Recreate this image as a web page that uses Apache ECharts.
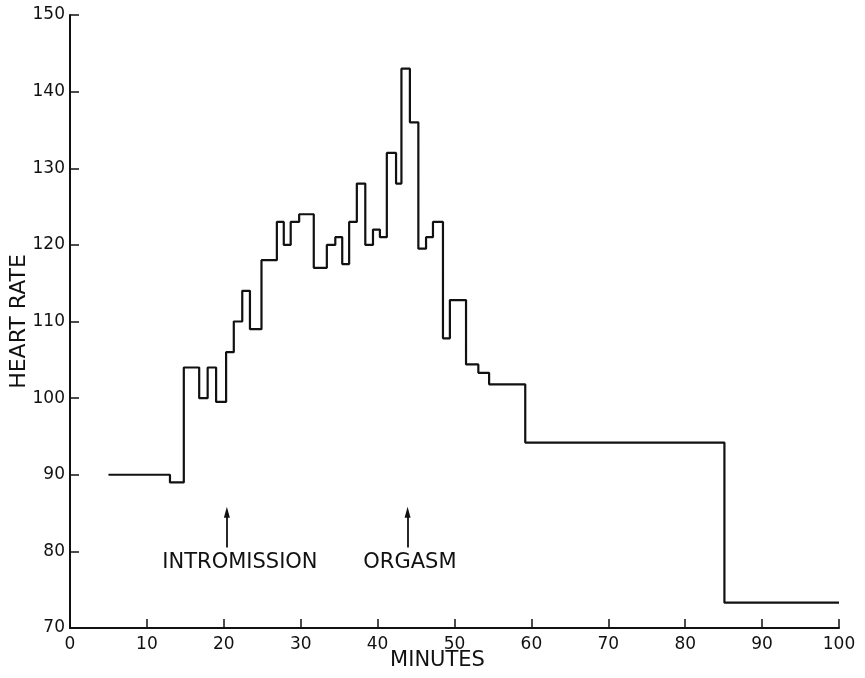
<!DOCTYPE html>
<html>
<head>
<meta charset="utf-8">
<script src="https://cdn.jsdelivr.net/npm/echarts@6/dist/echarts.min.js"></script>
<style>
  html, body { margin: 0; padding: 0; background: #fff; }
  #chart { width: 865px; height: 678px; }
</style>
</head>
<body>
<div id="chart"></div>
<script>
// minute at which each step begins (last entry closes the trace)
const stepMinutes = [5, 13, 14.8, 16.8, 17.9, 19.0, 20.3, 21.3, 22.4, 23.4, 24.9, 26.9, 27.8, 28.7, 29.8, 31.7,
  33.4, 34.5, 35.4, 36.3, 37.3, 38.4, 39.4, 40.3, 41.2, 42.4, 43.1, 44.2, 45.3, 46.3, 47.2, 48.5, 49.4,
  51.5, 53.1, 54.5, 59.2, 85.1, 100];
const heartRate = [90, 89, 104, 100, 104, 99.5, 106, 110, 114, 109, 118, 123, 120, 123, 124, 117,
  120, 121, 117.5, 123, 128, 120, 122, 121, 132, 128, 143, 136, 119.5, 121, 123, 107.8, 112.8,
  104.4, 103.3, 101.8, 94.2, 73.3, 73.3];

const xTicks = [0, 10, 20, 30, 40, 50, 60, 70, 80, 90, 100];
const yTicks = [70, 80, 90, 100, 110, 120, 130, 140, 150];

const events = ["INTROMISSION", "ORGASM"];
const eventMinutes = [20.4, 43.9];
const eventLabelMinutes = [22.1, 44.2];

const font = "DejaVu Sans";
const ink = "#111";

const chart = echarts.init(document.getElementById("chart"));

const points = stepMinutes.map((m, i) => [m, heartRate[i]]);

chart.setOption({
  backgroundColor: "#fff",
  animation: false,
  grid: { left: 70, right: 26, top: 15, bottom: 50, outerBoundsMode: "none", containLabel: false },
  xAxis: {
    type: "value",
    min: xTicks[0],
    max: xTicks[xTicks.length - 1],
    interval: 10,
    name: "MINUTES",
    nameLocation: "middle",
    nameGap: 22,
    nameMoveOverlap: false,
    nameTextStyle: { fontFamily: font, fontSize: 21, color: ink, padding: [0, 34, 0, 0] },
    axisLine: { lineStyle: { color: ink, width: 2 } },
    axisTick: { inside: true, length: 9, lineStyle: { color: ink, width: 1.5 } },
    axisLabel: { fontFamily: font, fontSize: 17, color: ink, margin: 8 },
    splitLine: { show: false }
  },
  yAxis: {
    type: "value",
    min: yTicks[0],
    max: yTicks[yTicks.length - 1],
    interval: 10,
    name: "HEART RATE",
    nameLocation: "middle",
    nameGap: 40,
    nameMoveOverlap: false,
    nameTextStyle: { fontFamily: font, fontSize: 22, color: ink },
    axisLine: { show: true, lineStyle: { color: ink, width: 2 } },
    axisTick: { show: true, inside: true, length: 9, lineStyle: { color: ink, width: 1.5 } },
    axisLabel: { fontFamily: font, fontSize: 17, color: ink, margin: 5 },
    splitLine: { show: false }
  },
  series: [
    {
      type: "line",
      step: "end",
      data: points,
      showSymbol: false,
      lineStyle: { color: ink, width: 2.2 },
      markLine: {
        silent: true,
        symbol: ["none", "triangle"],
        symbolSize: [6, 11],
        label: { show: false },
        lineStyle: { color: ink, width: 1.8, type: "solid" },
        data: eventMinutes.map((m) => [{ coord: [m, 80.5] }, { coord: [m, 85.1] }])
      },
      markPoint: {
        silent: true,
        symbol: "circle",
        symbolSize: 0,
        label: {
          show: true,
          position: "inside",
          fontFamily: font,
          fontSize: 21,
          color: ink,
          formatter: (p) => p.name
        },
        data: events.map((name, i) => ({ name, coord: [eventLabelMinutes[i], 78.6] }))
      }
    }
  ]
});
</script>
</body>
</html>
